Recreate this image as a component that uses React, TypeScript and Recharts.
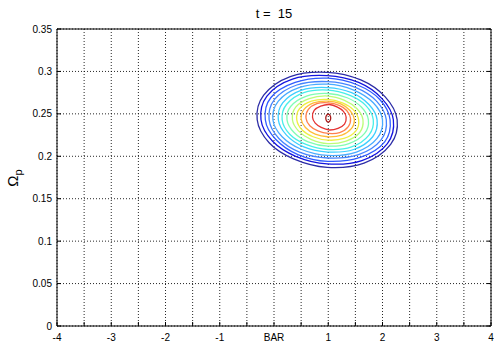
import { LineChart, Line, XAxis, YAxis, CartesianGrid } from 'recharts'

// axis ticks (x every 0.5, labels only on whole numbers, 0 is labelled BAR)
const xTicks = [-4, -3.5, -3, -2.5, -2, -1.5, -1, -0.5, 0, 0.5, 1, 1.5, 2, 2.5, 3, 3.5, 4]
const xTickLabels = ['-4', '', '-3', '', '-2', '', '-1', '', 'BAR', '', '1', '', '2', '', '3', '', '4']
const yTicks = [0, 0.05, 0.1, 0.15, 0.2, 0.25, 0.3, 0.35]
const yTickLabels = ['0', '0.05', '0.1', '0.15', '0.2', '0.25', '0.3', '0.35']

const title = 't =  15'

// contour lines, outermost first, points as [x, Ωp]
const ring0: [number, number][] = [[2.27, 0.243], [2.05, 0.27], [1.6, 0.29], [0.98, 0.299], [0.3, 0.294], [-0.19, 0.272], [-0.31, 0.243], [-0.09, 0.216], [0.36, 0.197], [0.98, 0.187], [1.66, 0.192], [2.15, 0.214]]
const ring1: [number, number][] = [[2.2, 0.243], [1.99, 0.268], [1.56, 0.287], [0.98, 0.295], [0.34, 0.291], [-0.13, 0.271], [-0.24, 0.243], [-0.03, 0.218], [0.4, 0.2], [0.98, 0.191], [1.62, 0.195], [2.09, 0.215]]
const ring2: [number, number][] = [[2.14, 0.243], [1.95, 0.267], [1.54, 0.284], [0.99, 0.292], [0.39, 0.287], [-0.06, 0.269], [-0.16, 0.243], [0.03, 0.22], [0.44, 0.202], [0.99, 0.194], [1.6, 0.199], [2.04, 0.217]]
const ring3: [number, number][] = [[2.07, 0.243], [1.89, 0.265], [1.51, 0.281], [0.99, 0.288], [0.42, 0.284], [0.01, 0.267], [-0.09, 0.243], [0.09, 0.221], [0.47, 0.205], [0.99, 0.198], [1.56, 0.202], [1.97, 0.219]]
const ring4: [number, number][] = [[2.0, 0.243], [1.83, 0.263], [1.47, 0.278], [0.99, 0.285], [0.46, 0.281], [0.08, 0.265], [-0.02, 0.243], [0.15, 0.223], [0.51, 0.208], [0.99, 0.201], [1.52, 0.205], [1.9, 0.221]]
const ring5: [number, number][] = [[1.9, 0.243], [1.75, 0.261], [1.43, 0.275], [0.99, 0.281], [0.51, 0.278], [0.16, 0.263], [0.08, 0.243], [0.23, 0.225], [0.55, 0.211], [0.99, 0.205], [1.47, 0.208], [1.82, 0.223]]
const ring6: [number, number][] = [[1.83, 0.243], [1.69, 0.26], [1.39, 0.272], [0.99, 0.278], [0.55, 0.275], [0.23, 0.261], [0.15, 0.243], [0.29, 0.226], [0.59, 0.214], [0.99, 0.208], [1.43, 0.211], [1.75, 0.225]]
const ring7: [number, number][] = [[1.74, 0.243], [1.61, 0.258], [1.35, 0.269], [0.99, 0.274], [0.6, 0.271], [0.31, 0.259], [0.24, 0.243], [0.37, 0.228], [0.63, 0.217], [0.99, 0.212], [1.38, 0.215], [1.67, 0.227]]
const ring8: [number, number][] = [[1.64, 0.243], [1.53, 0.256], [1.3, 0.266], [0.99, 0.271], [0.65, 0.268], [0.4, 0.258], [0.34, 0.243], [0.45, 0.23], [0.68, 0.22], [0.99, 0.215], [1.33, 0.218], [1.58, 0.228]]
const ring9: [number, number][] = [[1.56, 0.243], [1.46, 0.255], [1.26, 0.263], [0.99, 0.267], [0.69, 0.265], [0.47, 0.256], [0.42, 0.243], [0.52, 0.231], [0.72, 0.223], [0.99, 0.219], [1.29, 0.221], [1.51, 0.23]]
const ring10: [number, number][] = [[1.48, 0.244], [1.4, 0.254], [1.22, 0.262], [0.99, 0.265], [0.73, 0.263], [0.55, 0.255], [0.5, 0.244], [0.58, 0.234], [0.76, 0.226], [0.99, 0.223], [1.25, 0.225], [1.43, 0.233]]
const ring11: [number, number][] = [[1.41, 0.245], [1.34, 0.254], [1.2, 0.26], [1.0, 0.263], [0.79, 0.262], [0.63, 0.255], [0.59, 0.245], [0.66, 0.236], [0.81, 0.23], [1.0, 0.227], [1.21, 0.228], [1.37, 0.235]]
const ring12: [number, number][] = [[1.33, 0.246], [1.28, 0.253], [1.17, 0.258], [1.02, 0.261], [0.86, 0.259], [0.74, 0.254], [0.71, 0.246], [0.76, 0.239], [0.87, 0.234], [1.02, 0.231], [1.18, 0.233], [1.3, 0.238]]
const core: [number, number][] = [[1.046, 0.245], [1.023, 0.249], [0.977, 0.249], [0.954, 0.245], [0.977, 0.241], [1.023, 0.241]]

const contours = [ring0, ring1, ring2, ring3, ring4, ring5, ring6, ring7, ring8, ring9, ring10, ring11, ring12, core]
const contourColors = [
  '#2c2ca6', '#1414e0', '#2f5cff', '#4585ff', '#48aaff', '#3ccfff', '#48eee8',
  '#80fcb4', '#bcfc78', '#eeee44', '#ffbc38', '#ff804c', '#e43232', '#a81818',
]

const font = '"Liberation Sans", Arial, Helvetica, sans-serif'

// closed catmull-rom so the contour loops come out round instead of as polygons
function smoothClosed(context: any) {
  let pts: [number, number][] = []
  return {
    areaStart() {},
    areaEnd() {},
    lineStart() {
      pts = []
    },
    point(x: number, y: number) {
      pts.push([x, y])
    },
    lineEnd() {
      const n = pts.length
      if (!n) return
      context.moveTo(pts[0][0], pts[0][1])
      for (let i = 0; i < n; i++) {
        const p0 = pts[(i - 1 + n) % n]
        const p1 = pts[i]
        const p2 = pts[(i + 1) % n]
        const p3 = pts[(i + 2) % n]
        context.bezierCurveTo(
          p1[0] + (p2[0] - p0[0]) / 6,
          p1[1] + (p2[1] - p0[1]) / 6,
          p2[0] - (p3[0] - p1[0]) / 6,
          p2[1] - (p3[1] - p1[1]) / 6,
          p2[0],
          p2[1],
        )
      }
      context.closePath()
    },
  }
}

function BottomTick({ x, y, payload }: any) {
  const label = xTickLabels[xTicks.indexOf(payload.value)]
  return (
    <g>
      <line x1={x} y1={y} x2={x} y2={y - 4} stroke="#000" />
      <text x={x} y={y + 15} textAnchor="middle" fontSize={10} fontFamily={font} fill="#000">
        {label}
      </text>
    </g>
  )
}

function LeftTick({ x, y, payload }: any) {
  const label = yTickLabels[yTicks.indexOf(payload.value)]
  return (
    <g>
      <line x1={x} y1={y} x2={x + 4} y2={y} stroke="#000" />
      <text x={x - 5} y={y + 3.5} textAnchor="end" fontSize={10} fontFamily={font} fill="#000">
        {label}
      </text>
    </g>
  )
}

function TopTick({ x, y }: any) {
  return <line x1={x} y1={y} x2={x} y2={y + 4} stroke="#000" />
}

function RightTick({ x, y }: any) {
  return <line x1={x} y1={y} x2={x - 4} y2={y} stroke="#000" />
}

export default function App() {
  return (
    <div style={{ position: 'absolute', left: 0, top: 0, width: 494, height: 343, background: '#fff' }}>
      <LineChart width={494} height={343} margin={{ top: 28, right: 2, bottom: 0, left: 0 }}>
        <CartesianGrid stroke="#000" strokeOpacity={0.85} strokeDasharray="1 2" />
        <XAxis
          dataKey="x"
          type="number"
          domain={[-4, 4]}
          ticks={xTicks}
          interval={0}
          allowDataOverflow
          height={17}
          tickSize={0}
          tickMargin={0}
          tickLine={false}
          axisLine={{ stroke: '#000' }}
          tick={<BottomTick />}
        />
        <XAxis
          xAxisId="top"
          orientation="top"
          type="number"
          domain={[-4, 4]}
          ticks={xTicks}
          interval={0}
          allowDataOverflow
          height={1}
          tickSize={0}
          tickMargin={0}
          tickLine={false}
          axisLine={{ stroke: '#000' }}
          tick={<TopTick />}
        />
        <YAxis
          type="number"
          domain={[0, 0.35]}
          ticks={yTicks}
          interval={0}
          allowDataOverflow
          width={57}
          tickSize={0}
          tickMargin={0}
          tickLine={false}
          axisLine={{ stroke: '#000' }}
          tick={<LeftTick />}
        />
        <YAxis
          yAxisId="right"
          orientation="right"
          type="number"
          domain={[0, 0.35]}
          ticks={yTicks}
          interval={0}
          allowDataOverflow
          width={1}
          tickSize={0}
          tickMargin={0}
          tickLine={false}
          axisLine={{ stroke: '#000' }}
          tick={<RightTick />}
        />
        {contours.map((pts, i) => (
          <Line
            key={i}
            data={pts.map(([x, y]) => ({ x, y }))}
            dataKey="y"
            type={smoothClosed as any}
            stroke={contourColors[i]}
            strokeWidth={1.3}
            dot={false}
            activeDot={false}
            isAnimationActive={false}
          />
        ))}
      </LineChart>
      <svg width={494} height={343} style={{ position: 'absolute', left: 0, top: 0, pointerEvents: 'none' }}>
        <text x={274} y={18} textAnchor="middle" fontSize={13} fontFamily={font} fill="#000" style={{ whiteSpace: 'pre' }}>
          {title}
        </text>
        <text transform="translate(18,178) rotate(-90)" textAnchor="middle" fontSize={15} fontFamily={font} fill="#000">
          Ω<tspan fontSize={11} dy={4}>p</tspan>
        </text>
      </svg>
    </div>
  )
}
